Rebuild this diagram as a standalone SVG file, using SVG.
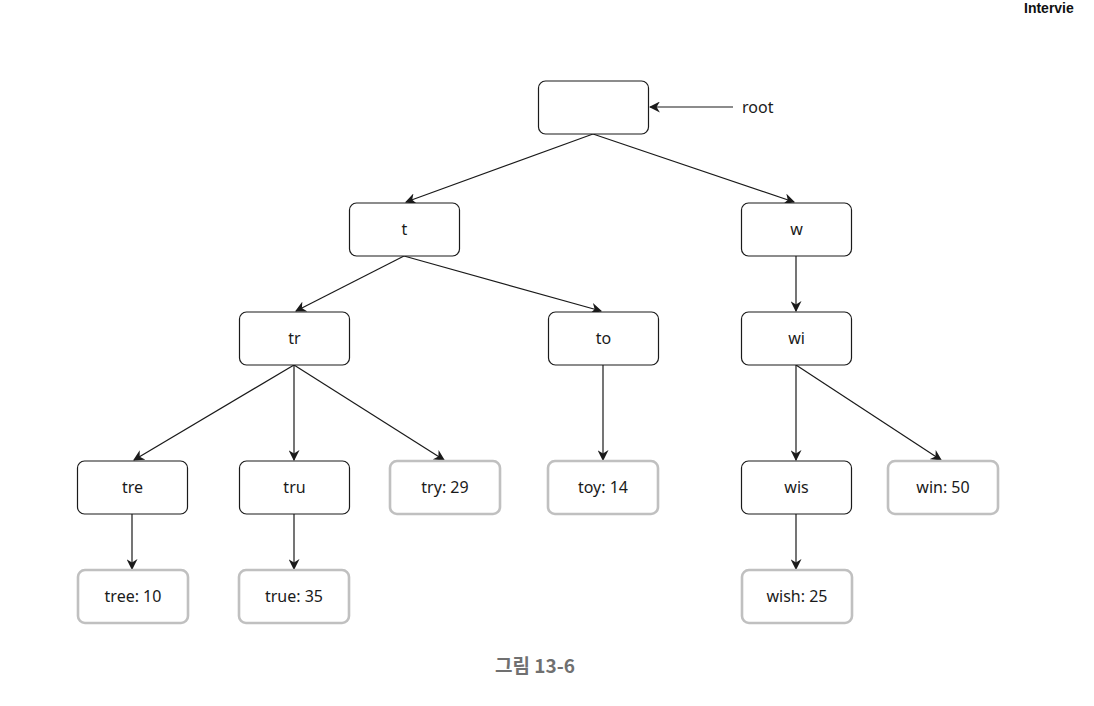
<svg xmlns="http://www.w3.org/2000/svg" width="1094" height="706" viewBox="0 0 1094 706">
<style>
.n{fill:#fff;stroke:#1a1a1a;stroke-width:1.2}
.l{fill:#fff;stroke:#c0c0c0;stroke-width:2.6}
.t{font-family:"Noto Sans","DejaVu Sans",sans-serif;font-size:16px;fill:#1a1a1a;text-anchor:middle}
.e{stroke:#1a1a1a;stroke-width:1.2;fill:none;marker-end:url(#a)}
</style>
<defs>
<marker id="a" viewBox="0 0 10 10" refX="9" refY="5" markerWidth="11" markerHeight="11" markerUnits="userSpaceOnUse" orient="auto">
<path d="M0,0 L10,5 L0,10 L3,5 Z" fill="#1a1a1a"/>
</marker>
</defs>
<rect width="1094" height="706" fill="#fff"/>
<text x="1024" y="13" font-family="Liberation Sans,Arial,sans-serif" font-size="14" font-weight="bold" fill="#111">Intervie</text>
<g id="connectors">
<path class="e" d="M733,107 L650,107"/>
<path class="e" d="M593,134 L406,202"/>
<path class="e" d="M593,134 L794,202"/>
<path class="e" d="M404,256 L296,311"/>
<path class="e" d="M404,256 L601,311"/>
<path class="e" d="M796,256 L796,311"/>
<path class="e" d="M294,365 L134,460"/>
<path class="e" d="M294,365 L294,460"/>
<path class="e" d="M294,365 L444,460"/>
<path class="e" d="M603,365 L603,460"/>
<path class="e" d="M796,365 L796,460"/>
<path class="e" d="M796,365 L941,460"/>
<path class="e" d="M132,514 L132,569"/>
<path class="e" d="M294,514 L294,569"/>
<path class="e" d="M796,514 L796,569"/>
</g>
<text class="t" x="742" y="113" style="text-anchor:start">root</text>
<g id="root"><rect class="n" x="538.5" y="81" width="110" height="53" rx="7"/></g>
<g id="t"><rect class="n" x="349.5" y="203" width="110" height="53" rx="7"/><text class="t" x="404.5" y="235">t</text></g>
<g id="w"><rect class="n" x="741.5" y="203" width="110" height="53" rx="7"/><text class="t" x="796.5" y="235">w</text></g>
<g id="tr"><rect class="n" x="239.5" y="312" width="110" height="53" rx="7"/><text class="t" x="294.5" y="344">tr</text></g>
<g id="to"><rect class="n" x="548.5" y="312" width="110" height="53" rx="7"/><text class="t" x="603.5" y="344">to</text></g>
<g id="wi"><rect class="n" x="741.5" y="312" width="110" height="53" rx="7"/><text class="t" x="796.5" y="344">wi</text></g>
<g id="tre"><rect class="n" x="77.5" y="461" width="110" height="53" rx="7"/><text class="t" x="132.5" y="493">tre</text></g>
<g id="tru"><rect class="n" x="239.5" y="461" width="110" height="53" rx="7"/><text class="t" x="294.5" y="493">tru</text></g>
<g id="try"><rect class="l" x="390" y="461" width="110" height="53" rx="7"/><text class="t" x="445" y="493">try: 29</text></g>
<g id="toy"><rect class="l" x="548" y="461" width="110" height="53" rx="7"/><text class="t" x="603" y="493">toy: 14</text></g>
<g id="wis"><rect class="n" x="741.5" y="461" width="110" height="53" rx="7"/><text class="t" x="796.5" y="493">wis</text></g>
<g id="win"><rect class="l" x="888" y="461" width="110" height="53" rx="7"/><text class="t" x="943" y="493">win: 50</text></g>
<g id="tree"><rect class="l" x="78" y="570" width="110" height="53" rx="7"/><text class="t" x="133" y="602">tree: 10</text></g>
<g id="true"><rect class="l" x="239" y="570" width="110" height="53" rx="7"/><text class="t" x="294" y="602">true: 35</text></g>
<g id="wish"><rect class="l" x="742" y="570" width="110" height="53" rx="7"/><text class="t" x="797" y="602">wish: 25</text></g>
<text x="535" y="673" text-anchor="middle" font-family="Noto Sans CJK KR,Noto Sans,sans-serif" font-size="19" font-weight="bold" fill="#707070">그림 13-6</text>
</svg>
